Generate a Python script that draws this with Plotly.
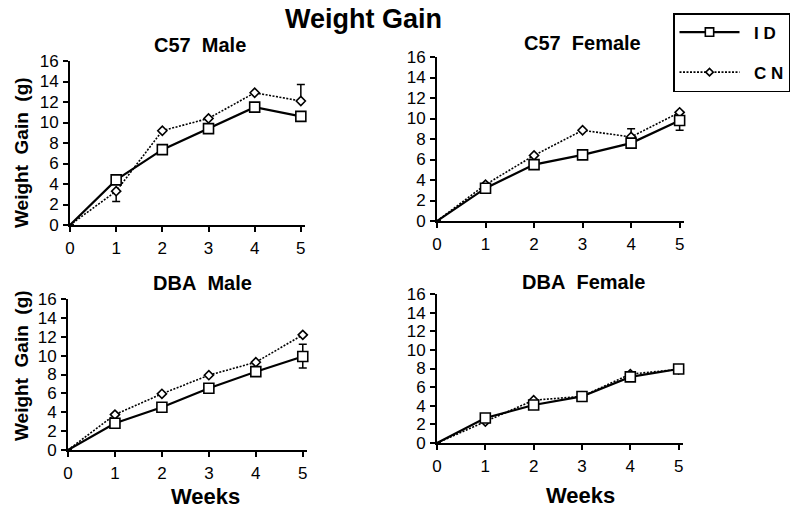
import plotly.graph_objects as go

# ---------------- data ----------------
weeks = [0, 1, 2, 3, 4, 5]

c57_male_id = [0, 4.4, 7.35, 9.4, 11.5, 10.6]
c57_male_cn = [0, 3.3, 9.2, 10.4, 12.9, 12.1]
c57_female_id = [0, 3.2, 5.5, 6.45, 7.6, 9.8]
c57_female_cn = [0, 3.55, 6.4, 8.85, 8.2, 10.6]
dba_male_id = [0, 2.83, 4.53, 6.55, 8.3, 9.9]
dba_male_cn = [0, 3.75, 5.95, 7.93, 9.3, 12.2]
dba_female_id = [0, 2.68, 4.08, 5.0, 7.1, 7.95]
dba_female_cn = [0, 2.3, 4.6, 5.0, 7.4, 7.9]

# error bars (upper, lower); None = no bar shown
c57_male_id_err_up = [None] * 6
c57_male_id_err_dn = [None] * 6
c57_male_cn_err_up = [None, None, None, None, None, 1.6]
c57_male_cn_err_dn = [None, 1.0, None, None, None, None]
c57_female_id_err_up = [None] * 6
c57_female_id_err_dn = [None, None, None, None, None, 0.95]
c57_female_cn_err_up = [None, None, None, None, 0.8, None]
c57_female_cn_err_dn = [None] * 6
dba_male_id_err_up = [None, None, None, None, None, 1.3]
dba_male_id_err_dn = [None, None, None, None, None, 1.2]
dba_male_cn_err_up = [None] * 6
dba_male_cn_err_dn = [None] * 6
dba_female_id_err_up = [None] * 6
dba_female_id_err_dn = [None] * 6
dba_female_cn_err_up = [None] * 6
dba_female_cn_err_dn = [None] * 6

panel_titles = ["C57\u00a0\u00a0Male", "C57\u00a0\u00a0Female", "DBA\u00a0\u00a0Male", "DBA\u00a0\u00a0Female"]
y_ticks = [0, 2, 4, 6, 8, 10, 12, 14, 16]
x_ticks = [0, 1, 2, 3, 4, 5]

panels = [
    (c57_male_id, c57_male_id_err_up, c57_male_id_err_dn, c57_male_cn, c57_male_cn_err_up, c57_male_cn_err_dn),
    (c57_female_id, c57_female_id_err_up, c57_female_id_err_dn, c57_female_cn, c57_female_cn_err_up, c57_female_cn_err_dn),
    (dba_male_id, dba_male_id_err_up, dba_male_id_err_dn, dba_male_cn, dba_male_cn_err_up, dba_male_cn_err_dn),
    (dba_female_id, dba_female_id_err_up, dba_female_id_err_dn, dba_female_cn, dba_female_cn_err_up, dba_female_cn_err_dn),
]

# ---------------- layout geometry (pixels) ----------------
W, H = 799, 508
# (x_left, x_right, y_bottom, y_top) in pixels
boxes = [
    (70, 305, 225, 61),
    (437, 684, 221, 57),
    (68, 307, 450, 299),
    (437, 683, 443, 294),
]

FONT = "Arial, 'Liberation Sans', Helvetica, sans-serif"

fig = go.Figure()

for i, (idv, idu, idd, cnv, cnu, cnd) in enumerate(panels):
    xa = "x" if i == 0 else f"x{i+1}"
    ya = "y" if i == 0 else f"y{i+1}"
    msize_sq = [0] + [10] * 5
    msize_di = [0] + [7] * 5
    # CN (dotted, diamonds) drawn first
    fig.add_trace(go.Scatter(
        x=weeks, y=cnv, xaxis=xa, yaxis=ya, mode="lines+markers",
        name="\u00a0\u00a0<b>C N</b>", legendgroup="cn", showlegend=(i == 0), legendrank=2,
        line=dict(color="black", width=1.6, dash="2px,1.5px"),
        marker=dict(symbol="diamond", size=msize_di, color="white", opacity=1,
                    line=dict(color="black", width=1.6)),
        error_y=dict(type="data", symmetric=False, array=cnu, arrayminus=cnd,
                     color="black", thickness=1.5, width=4),
        cliponaxis=False,
    ))
    fig.add_trace(go.Scatter(
        x=weeks, y=idv, xaxis=xa, yaxis=ya, mode="lines+markers",
        name="\u00a0\u00a0<b>I D</b>", legendgroup="id", showlegend=(i == 0), legendrank=1,
        line=dict(color="black", width=2.2),
        marker=dict(symbol="square", size=msize_sq, color="white", opacity=1,
                    line=dict(color="black", width=1.6)),
        error_y=dict(type="data", symmetric=False, array=idu, arrayminus=idd,
                     color="black", thickness=1.5, width=4),
        cliponaxis=False,
    ))

axis_common = dict(showline=True, linecolor="black", linewidth=2, showgrid=False,
                   zeroline=False, ticks="outside", ticklen=5, tickwidth=1.5, automargin=False,
                   tickcolor="black", tickfont=dict(family=FONT, size=17, color="black"))

layout_axes = {}
for i, (xl, xr, yb, yt) in enumerate(boxes):
    sx = "xaxis" if i == 0 else f"xaxis{i+1}"
    sy = "yaxis" if i == 0 else f"yaxis{i+1}"
    ax_y = "y" if i == 0 else f"y{i+1}"
    ax_x = "x" if i == 0 else f"x{i+1}"
    layout_axes[sx] = dict(axis_common, domain=[xl / W, xr / W], range=[0, 5.09],
                           tickvals=x_ticks, anchor=ax_y, ticklabelstandoff=2)
    layout_axes[sy] = dict(axis_common, domain=[1 - yb / H, 1 - yt / H], range=[0, 16],
                           tickvals=y_ticks, anchor=ax_x, ticklabelstandoff=1)

fig.update_layout(**layout_axes)

annotations = []
title_pos = [(200.5, 45), (582, 43), (202.5, 283), (583, 282)]
for t, (px, py) in zip(panel_titles, title_pos):
    annotations.append(dict(text=f"<b>{t}</b>", x=px / W, y=1 - py / H, xref="paper", yref="paper",
                            showarrow=False, xanchor="center", yanchor="middle",
                            font=dict(family=FONT, size=20, color="black")))
# main title
annotations.append(dict(text="<b>Weight\u00a0Gain</b>", x=363.5 / W, y=1 - 19 / H, xref="paper", yref="paper",
                        showarrow=False, xanchor="center", yanchor="middle",
                        font=dict(family=FONT, size=27, color="black")))
# y titles
for py in (153, 366):
    annotations.append(dict(text="<b>Weight\u00a0\u00a0Gain\u00a0\u00a0(g)</b>", x=21 / W, y=1 - py / H,
                            xref="paper", yref="paper", showarrow=False, textangle=-90,
                            xanchor="center", yanchor="middle",
                            font=dict(family=FONT, size=19, color="black")))
# x titles
for px, py in ((205, 496), (580, 495)):
    annotations.append(dict(text="<b>Weeks</b>", x=px / W, y=1 - py / H, xref="paper", yref="paper",
                            showarrow=False, xanchor="center", yanchor="middle",
                            font=dict(family=FONT, size=22, color="black")))

fig.update_layout(
    template="none",
    width=W, height=H, autosize=False,
    margin=dict(l=0, r=0, t=0, b=0, pad=0),
    paper_bgcolor="white", plot_bgcolor="white",
    annotations=annotations,
    showlegend=True,
    legend=dict(x=673 / W, y=1 - 13 / H, xanchor="left", yanchor="top",
                bordercolor="black", borderwidth=1.5, bgcolor="white",
                font=dict(family=FONT, size=17, color="black"),
                itemwidth=60, tracegroupgap=15, traceorder="grouped",
                itemclick=False),
)

fig.write_html("out.html", config={"displayModeBar": False, "responsive": False},
               post_script="document.body.style.margin='0';document.body.style.overflow='hidden';")
